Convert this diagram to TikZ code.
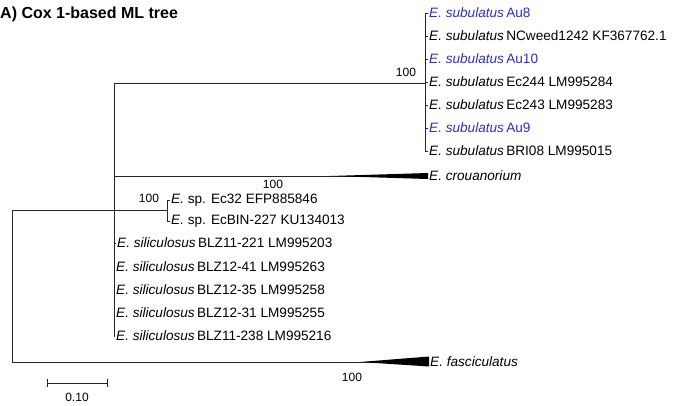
\documentclass[tikz,border=0pt]{standalone}
\usepackage{fontspec}
\setmainfont{Liberation Sans}
\usetikzlibrary{positioning}

\definecolor{aublue}{RGB}{45,45,205}
\newcommand{\esub}[1]{\textit{E. subulatus}\,#1}
\newcommand{\esil}[1]{\textit{E. siliculosus}\,#1}

\begin{document}
\begin{tikzpicture}[x=1pt,y=-1pt,
  every node/.style={font=\fontsize{13.6}{15}\selectfont},
  branch/.style={line width=0.8pt,black!85},
  tip/.style={anchor=west,inner sep=1pt},
  boot/.style={inner sep=0pt,font=\fontsize{12}{13}\selectfont},
  wedge/.style={fill=black}]
  \useasboundingbox (0,0) rectangle (681,405);
  % title
  \node[anchor=west,inner sep=0pt,font=\fontsize{16}{18}\selectfont\bfseries] (title) at (0,14) {A) Cox 1-based ML tree};
  % internal nodes
  \coordinate (root) at (12,210);
  \coordinate (ingroup) at (114,210);
  \coordinate (subnode) at (425,83);
  \coordinate (spnode) at (167,210);
  % subulatus tips
  \node[tip,text=aublue] (s1) at (428,13) {\esub{Au8}};
  \node[tip] (s2) at (428,36) {\esub{NCweed1242 KF367762.1}};
  \node[tip,text=aublue] (s3) at (428,59) {\esub{Au10}};
  \node[tip] (s4) at (428,82) {\esub{Ec244 LM995284}};
  \node[tip] (s5) at (428,105) {\esub{Ec243 LM995283}};
  \node[tip,text=aublue] (s6) at (428,128) {\esub{Au9}};
  \node[tip] (s7) at (428,151) {\esub{BRI08 LM995015}};
  % collapsed clades
  \node[tip] (cro) at (428,176) {\textit{E. crouanorium}};
  \node[tip] (fas) at (429,362) {\textit{E. fasciculatus}};
  % E. sp. tips
  \node[tip] (p1) at (170,200) {\textit{E.} sp. Ec32 EFP885846};
  \node[tip] (p2) at (170,221) {\textit{E.} sp. EcBIN-227 KU134013};
  % siliculosus tips
  \node[tip] (l1) at (116,243) {\esil{BLZ11-221 LM995203}};
  \node[tip] (l2) at (115,267) {\esil{BLZ12-41 LM995263}};
  \node[tip] (l3) at (115,290) {\esil{BLZ12-35 LM995258}};
  \node[tip] (l4) at (115,313) {\esil{BLZ12-31 LM995255}};
  \node[tip] (l5) at (115,336) {\esil{BLZ11-238 LM995216}};
  % root
  \draw[branch] (root) -- (ingroup);
  \draw[branch] (root) -- (root |- fas.west) -- (fas.west);
  \fill[wedge] (360,362) -- (fas.west |- 0,356.5) -- (fas.west |- 0,366.5) -- cycle;
  % ingroup
  \draw[branch] (ingroup |- subnode) -- (ingroup |- l5.west);
  \draw[branch] (ingroup |- subnode) -- (subnode);
  \draw[branch] (subnode |- s1.west) -- (subnode |- s7.west);
  \foreach \t in {s1,s2,s3,s4,s5,s6,s7}
    \draw[branch] (subnode |- \t.west) -- (\t.west);
  \draw[branch] (ingroup |- cro.west) -- (cro.west);
  \fill[wedge] (330,176) -- (cro.west |- 0,173) -- (cro.west |- 0,179) -- cycle;
  \draw[branch] (ingroup) -- (spnode);
  \draw[branch] (spnode |- p1.west) -- (spnode |- p2.west);
  \foreach \t in {p1,p2}
    \draw[branch] (spnode |- \t.west) -- (\t.west);
  \foreach \t in {l1,l2,l3,l4,l5}
    \draw[branch] (ingroup |- \t.west) -- (\t.west);
  % bootstrap values
  \node[boot] (b1) at (406,72) {100};
  \node[boot] (b2) at (149,198) {100};
  \node[boot] (b3) at (273,184) {100};
  \node[boot] (b4) at (352,377) {100};
  % scale bar
  \coordinate (sb1) at (47,383);
  \coordinate (sb2) at (107,383);
  \draw[branch] (sb1) -- (sb2);
  \draw[branch] ([yshift=-4pt]sb1) -- ([yshift=4pt]sb1);
  \draw[branch] ([yshift=-4pt]sb2) -- ([yshift=4pt]sb2);
  \node[boot] (sblabel) at (77,397) {0.10};
\end{tikzpicture}
\end{document}
